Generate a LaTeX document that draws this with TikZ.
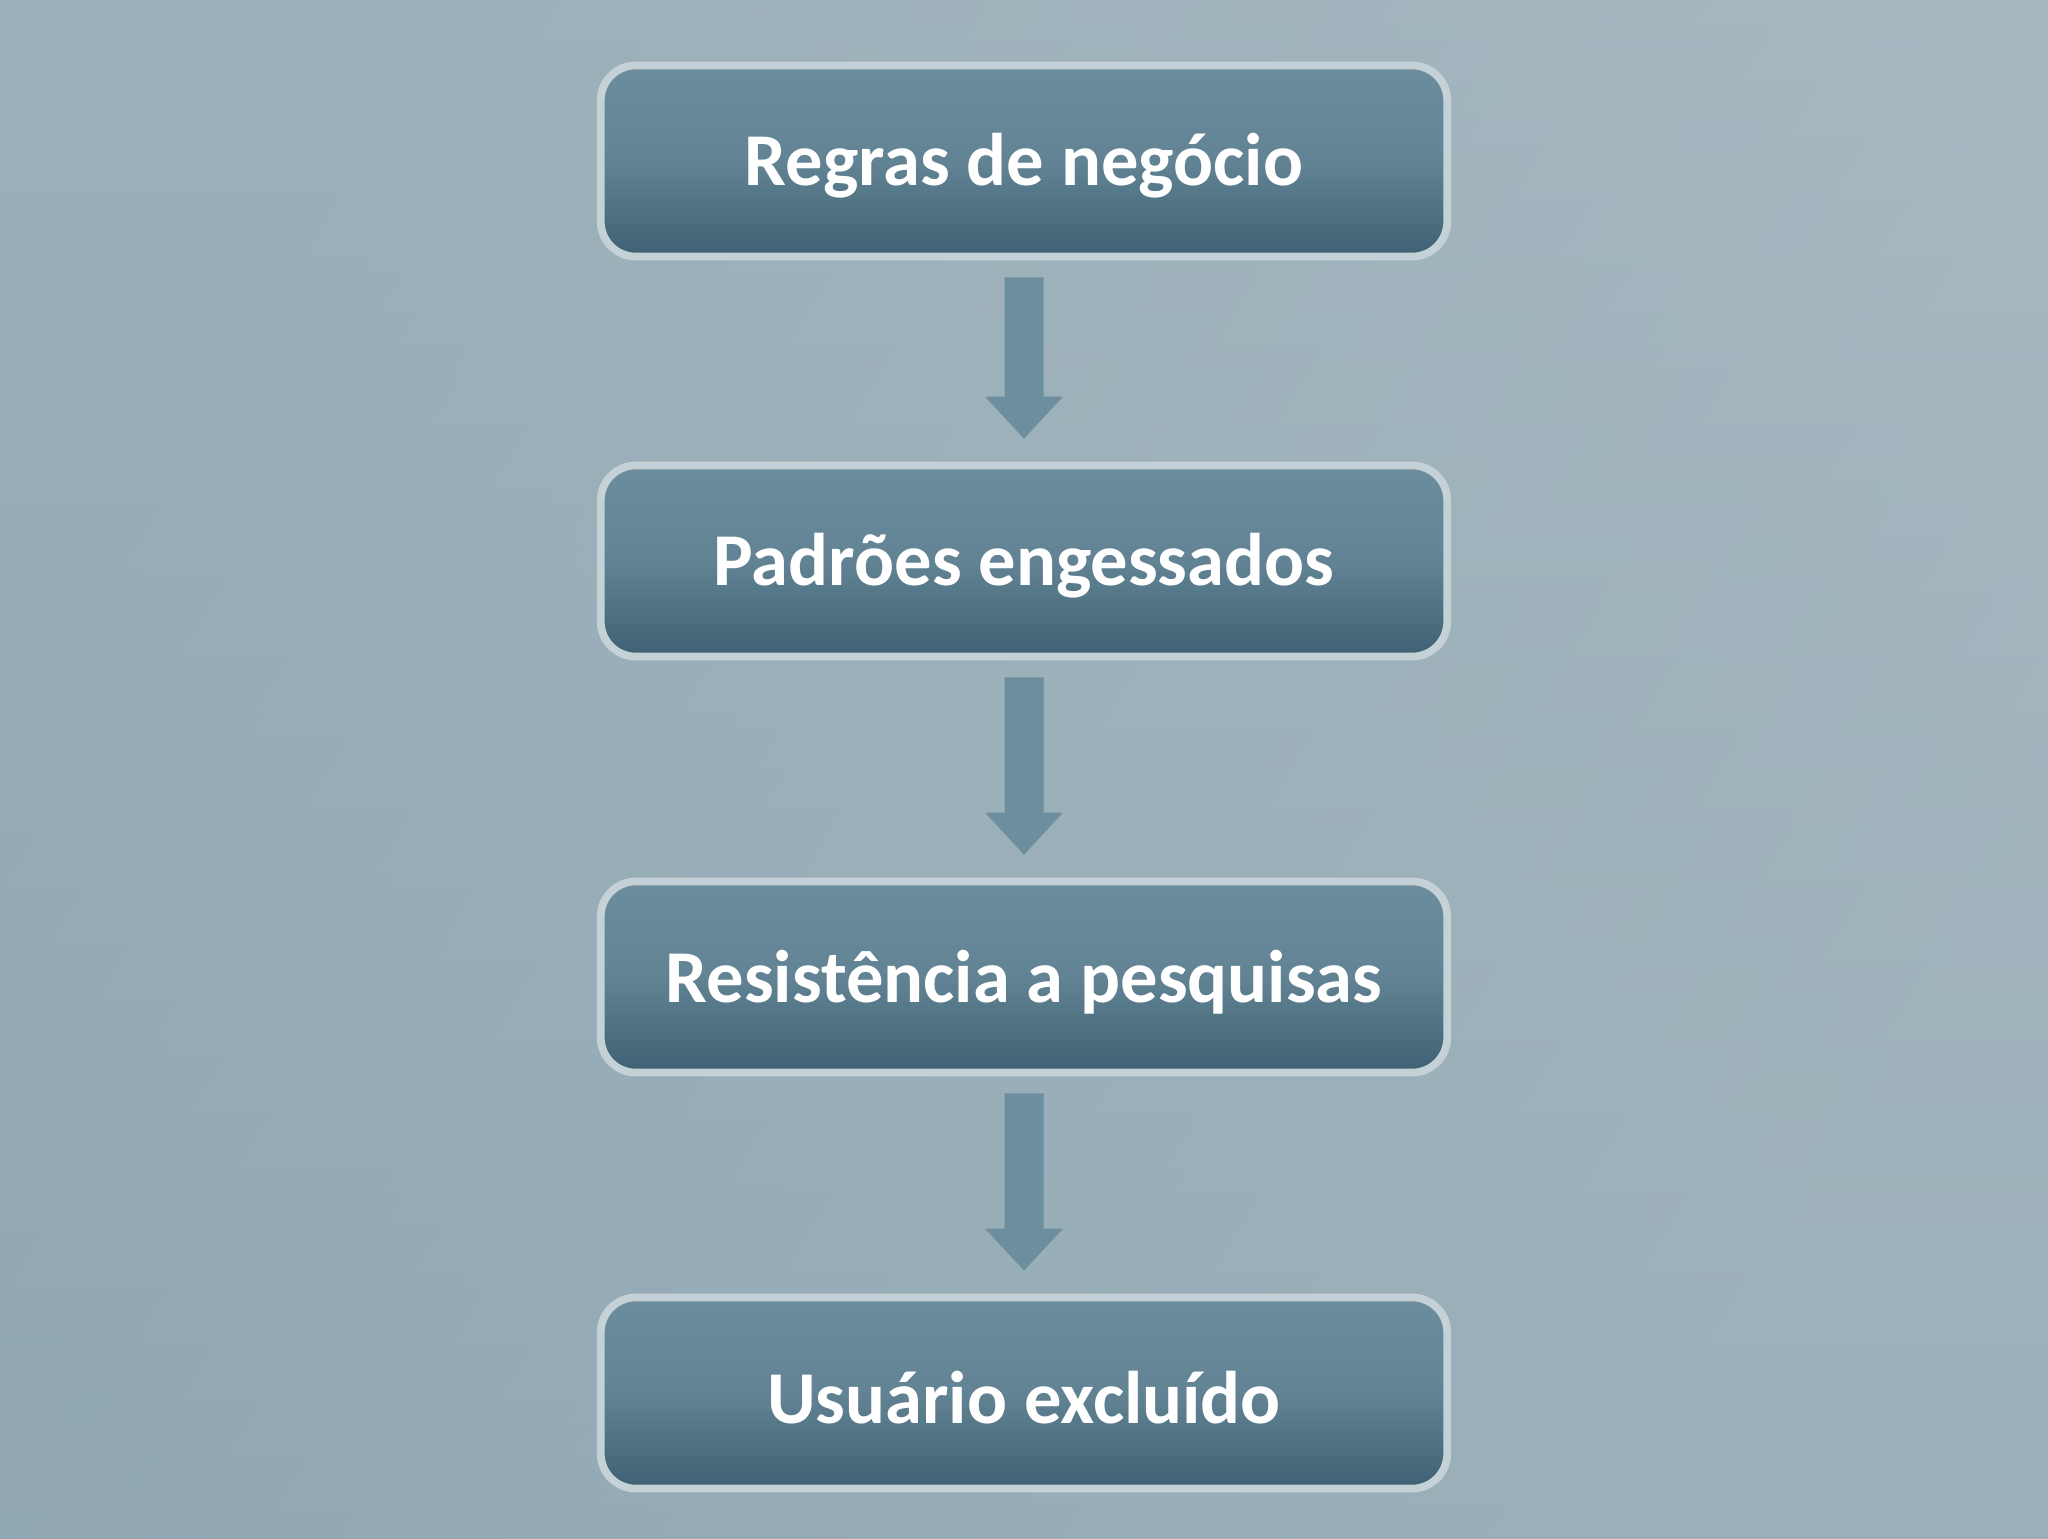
\documentclass[tikz,border=0pt]{standalone}
\usetikzlibrary{calc}
\usepackage{fontspec}
\setmainfont{Carlito}
\begin{document}
\begin{tikzpicture}[x=0.01cm,y=-0.01cm,
  box/.style={draw=boxborder,line width=2.2pt,rounded corners=0.35cm,
    shading=axis,top color=boxtop,bottom color=boxbot,middle color=boxmid,
    minimum width=8.46cm,minimum height=1.91cm,inner sep=0pt},
  lbl/.style={text=white,font=\fontsize{21.2}{25}\selectfont\bfseries},
  arr/.style={fill=arrowc,draw=none}]
\definecolor{bgA}{HTML}{8EA6B2}
\definecolor{bgB}{HTML}{A9BAC1}
\definecolor{boxtop}{HTML}{6C8D9D}
\definecolor{boxmid}{HTML}{618393}
\definecolor{boxbot}{HTML}{3E6273}
\definecolor{boxborder}{HTML}{C4D2D8}
\definecolor{arrowc}{HTML}{6D8E9E}
\shade[left color=bgA,right color=bgB,shading angle=60] (0,0) rectangle (2048,1538);
\shade[top color=bgB,bottom color=bgA,opacity=0.5] (0,0) rectangle (2048,1538);
\useasboundingbox (0,0) rectangle (2048,1538);
\node[box] (a) at (1024,161) {};
\node[box] (b) at (1024,561) {};
\node[box] (c) at (1024,977) {};
\node[box] (d) at (1024,1393) {};
\foreach \n/\t in {a/Regras de negócio,b/Padrões engessados,c/Resistência a pesquisas,d/Usuário excluído}
  \node[lbl] (\n t) at ($(\n)+(0,5)$) {\t};
\foreach \u/\v in {a/b,b/c,c/d}{
  \path ($(\u.south)+(0,17)$) coordinate (\u s) ($(\v.north)+(0,-23)$) coordinate (\u e);
  \fill[arr] ($(\u s)+(-19.5,0)$) -- ++(39,0) |- ($(\u e)+(19.5,-42)$) -- ++(19.5,0) -- (\u e) -- ++(-39,-42) -- ++(19.5,0) -- cycle;
}
\end{tikzpicture}
\end{document}
